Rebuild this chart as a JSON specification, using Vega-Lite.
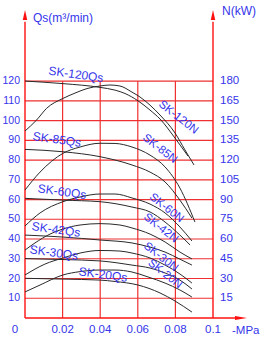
{
  "$schema": "https://vega.github.io/schema/vega-lite/v6.json",
  "autosize": {"type": "none"},
  "width": 224,
  "height": 310,
  "padding": {"left": 25, "top": 8, "right": 15, "bottom": 25},
  "background": "white",
  "config": {"view": {"stroke": null}, "text": {"font": "Liberation Sans, Arial, sans-serif", "color": "#3535ea"}},
  "datasets": {
    "curves": [
      {"s":"120Qs","x":0,"q":120},{"s":"120Qs","x":0.0202,"q":118.7},{"s":"120Qs","x":0.0399,"q":116.8},{"s":"120Qs","x":0.0479,"q":115.4},{"s":"120Qs","x":0.0532,"q":113.7},{"s":"120Qs","x":0.0601,"q":110},{"s":"120Qs","x":0.0665,"q":105.3},{"s":"120Qs","x":0.0718,"q":100.8},{"s":"120Qs","x":0.0798,"q":91.1},{"s":"120Qs","x":0.0867,"q":82},
      {"s":"120N","x":0,"q":94.7},{"s":"120N","x":0.0062,"q":100.3},{"s":"120N","x":0.0115,"q":106.2},{"s":"120N","x":0.0202,"q":111.2},{"s":"120N","x":0.0266,"q":113.9},{"s":"120N","x":0.033,"q":116.2},{"s":"120N","x":0.0399,"q":117.5},{"s":"120N","x":0.0452,"q":118},{"s":"120N","x":0.0505,"q":117.5},{"s":"120N","x":0.0569,"q":114.4},{"s":"120N","x":0.0612,"q":111.9},{"s":"120N","x":0.0665,"q":107.8},{"s":"120N","x":0.0718,"q":102.8},{"s":"120N","x":0.0798,"q":93.7},{"s":"120N","x":0.0851,"q":85.1},{"s":"120N","x":0.0899,"q":77.5},
      {"s":"85Qs","x":0,"q":85.4},{"s":"85Qs","x":0.0202,"q":84.2},{"s":"85Qs","x":0.0399,"q":81.7},{"s":"85Qs","x":0.0569,"q":77.5},{"s":"85Qs","x":0.0665,"q":73.9},{"s":"85Qs","x":0.0745,"q":68.9},{"s":"85Qs","x":0.0824,"q":59.7},{"s":"85Qs","x":0.0888,"q":50.6},
      {"s":"85N","x":0,"q":64.8},{"s":"85N","x":0.008,"q":73.9},{"s":"85N","x":0.0202,"q":83.4},{"s":"85N","x":0.0293,"q":86.6},{"s":"85N","x":0.0399,"q":88.5},{"s":"85N","x":0.0479,"q":88.4},{"s":"85N","x":0.0569,"q":86.6},{"s":"85N","x":0.0665,"q":82.5},{"s":"85N","x":0.0745,"q":76.5},{"s":"85N","x":0.0824,"q":65.8},{"s":"85N","x":0.0904,"q":48.6},
      {"s":"60Qs","x":0,"q":60.6},{"s":"60Qs","x":0.0202,"q":59.7},{"s":"60Qs","x":0.0399,"q":58.9},{"s":"60Qs","x":0.0569,"q":56.2},{"s":"60Qs","x":0.0665,"q":53.7},{"s":"60Qs","x":0.0745,"q":48.6},{"s":"60Qs","x":0.0824,"q":42},{"s":"60Qs","x":0.0878,"q":37},
      {"s":"60N","x":0,"q":46.6},{"s":"60N","x":0.008,"q":53.2},{"s":"60N","x":0.0202,"q":58.9},{"s":"60N","x":0.0293,"q":61.3},{"s":"60N","x":0.0399,"q":62.8},{"s":"60N","x":0.0479,"q":62.8},{"s":"60N","x":0.0569,"q":60.8},{"s":"60N","x":0.0665,"q":57.7},{"s":"60N","x":0.0745,"q":53.2},{"s":"60N","x":0.0824,"q":46.1},{"s":"60N","x":0.0888,"q":39},
      {"s":"42Qs","x":0,"q":42},{"s":"42Qs","x":0.0202,"q":41},{"s":"42Qs","x":0.0399,"q":39.5},{"s":"42Qs","x":0.0569,"q":38},{"s":"42Qs","x":0.0665,"q":35.9},{"s":"42Qs","x":0.0745,"q":33.4},{"s":"42Qs","x":0.0824,"q":29.8},{"s":"42Qs","x":0.0888,"q":26.8},
      {"s":"42N","x":0,"q":34.4},{"s":"42N","x":0.0053,"q":38},{"s":"42N","x":0.0133,"q":42.5},{"s":"42N","x":0.0202,"q":45.1},{"s":"42N","x":0.0293,"q":47.1},{"s":"42N","x":0.0399,"q":47.8},{"s":"42N","x":0.0505,"q":47.1},{"s":"42N","x":0.0569,"q":45.6},{"s":"42N","x":0.0665,"q":42.5},{"s":"42N","x":0.0745,"q":38.5},{"s":"42N","x":0.0824,"q":33.4},{"s":"42N","x":0.0888,"q":29.9},
      {"s":"30Qs","x":0,"q":30.1},{"s":"30Qs","x":0.0202,"q":29.6},{"s":"30Qs","x":0.0399,"q":28.9},{"s":"30Qs","x":0.0569,"q":26.8},{"s":"30Qs","x":0.0665,"q":25.3},{"s":"30Qs","x":0.0745,"q":22.8},{"s":"30Qs","x":0.0824,"q":19.2},{"s":"30Qs","x":0.0888,"q":14.7},
      {"s":"30N","x":0,"q":21.8},{"s":"30N","x":0.0106,"q":27.3},{"s":"30N","x":0.0202,"q":30.4},{"s":"30N","x":0.0293,"q":32.9},{"s":"30N","x":0.0399,"q":34.2},{"s":"30N","x":0.0505,"q":33.9},{"s":"30N","x":0.0569,"q":32.9},{"s":"30N","x":0.0665,"q":30.4},{"s":"30N","x":0.0745,"q":26.8},{"s":"30N","x":0.0824,"q":22.3},{"s":"30N","x":0.0888,"q":17.7},
      {"s":"20Qs","x":0,"q":20.1},{"s":"20Qs","x":0.0202,"q":19.7},{"s":"20Qs","x":0.0399,"q":19.2},{"s":"20Qs","x":0.0479,"q":18.5},{"s":"20Qs","x":0.0601,"q":16.7},{"s":"20Qs","x":0.0718,"q":12.7},{"s":"20Qs","x":0.0798,"q":8.6},{"s":"20Qs","x":0.0888,"q":3},
      {"s":"20N","x":0,"q":13.2},{"s":"20N","x":0.008,"q":16.7},{"s":"20N","x":0.0202,"q":21.8},{"s":"20N","x":0.0293,"q":23.5},{"s":"20N","x":0.0399,"q":24.3},{"s":"20N","x":0.0479,"q":24.3},{"s":"20N","x":0.0569,"q":23.3},{"s":"20N","x":0.0654,"q":20.8},{"s":"20N","x":0.0745,"q":17.7},{"s":"20N","x":0.0824,"q":14.2},{"s":"20N","x":0.0888,"q":10.6}
    ],
    "vgrid": [{"x":0.02},{"x":0.04},{"x":0.06},{"x":0.08}],
    "hgrid": [{"q":10},{"q":20},{"q":30},{"q":40},{"q":50},{"q":60},{"q":70},{"q":80},{"q":90},{"q":100},{"q":110},{"q":120}],
    "vaxes": [{"x":0},{"x":0.1}],
    "xticks": [{"x":0.02,"t":"0.02"},{"x":0.04,"t":"0.04"},{"x":0.06,"t":"0.06"},{"x":0.08,"t":"0.08"},{"x":0.1,"t":"0.1"}],
    "nticks": [{"n":15},{"n":30},{"n":45},{"n":60},{"n":75},{"n":90},{"n":105},{"n":120},{"n":135},{"n":150},{"n":165},{"n":180}],
    "qslabels": [
      {"x":0.0271,"q":123.4,"t":"SK-120Qs"},
      {"x":0.017,"q":90.4,"t":"SK-85Qs"},
      {"x":0.0197,"q":64.0,"t":"SK-60Qs"},
      {"x":0.0165,"q":44.8,"t":"SK-42Qs"},
      {"x":0.0154,"q":33.1,"t":"SK-30Qs"},
      {"x":0.0415,"q":22.0,"t":"SK-20Qs"}
    ],
    "nlabels": [
      {"x":0.0815,"q":101.5,"t":"SK-120N"},
      {"x":0.0717,"q":85.6,"t":"SK-85N"},
      {"x":0.0752,"q":55.6,"t":"SK-60N"},
      {"x":0.0722,"q":45.4,"t":"SK-42N"},
      {"x":0.0722,"q":30.8,"t":"SK-30N"},
      {"x":0.0744,"q":22.2,"t":"SK-20N"}
    ]
  },
  "resolve": {"scale": {"y": "independent"}},
  "layer": [
    {
      "data": {"name": "vgrid"},
      "mark": {"type": "rule", "color": "#ee3030", "strokeWidth": 1.2},
      "encoding": {
        "x": {"field": "x", "type": "quantitative", "scale": {"domain": [0, 0.11915]}, "axis": null},
        "y": {"datum": 0, "type": "quantitative", "scale": {"domain": [0, 157]}, "axis": null},
        "y2": {"datum": 120}
      }
    },
    {
      "data": {"name": "hgrid"},
      "mark": {"type": "rule", "color": "#ee3030", "strokeWidth": 1.2},
      "encoding": {
        "x": {"datum": 0, "type": "quantitative", "scale": {"domain": [0, 0.11915]}, "axis": null},
        "x2": {"datum": 0.1},
        "y": {"field": "q", "type": "quantitative", "scale": {"domain": [0, 157]}, "axis": null}
      }
    },
    {
      "data": {"name": "vaxes"},
      "mark": {"type": "rule", "color": "#ff1010", "strokeWidth": 1.4},
      "encoding": {
        "x": {"field": "x", "type": "quantitative", "scale": {"domain": [0, 0.11915]}, "axis": null},
        "y": {"datum": 0, "type": "quantitative", "scale": {"domain": [0, 157]}, "axis": null},
        "y2": {"datum": 150}
      }
    },
    {
      "data": {"values": [{"q": 0}]},
      "mark": {"type": "rule", "color": "#ff1010", "strokeWidth": 1.4},
      "encoding": {
        "x": {"datum": 0, "type": "quantitative", "scale": {"domain": [0, 0.11915]}, "axis": null},
        "x2": {"datum": 0.113},
        "y": {"field": "q", "type": "quantitative", "scale": {"domain": [0, 157]}, "axis": null}
      }
    },
    {
      "data": {"name": "vaxes"},
      "mark": {"type": "point", "filled": true, "opacity": 1, "color": "#ff1010", "size": 100, "shape": "M0,-1L0.45,1L-0.45,1Z"},
      "encoding": {
        "x": {"field": "x", "type": "quantitative", "scale": {"domain": [0, 0.11915]}, "axis": null},
        "y": {"datum": 153.5, "type": "quantitative", "scale": {"domain": [0, 157]}, "axis": null}
      }
    },
    {
      "data": {"values": [{"q": 0}]},
      "mark": {"type": "point", "filled": true, "opacity": 1, "color": "#ff1010", "size": 144, "shape": "M1,0L-1,-0.35L-1,0.35Z"},
      "encoding": {
        "x": {"datum": 0.1149, "type": "quantitative", "scale": {"domain": [0, 0.11915]}, "axis": null},
        "y": {"field": "q", "type": "quantitative", "scale": {"domain": [0, 157]}, "axis": null}
      }
    },
    {
      "data": {"name": "curves"},
      "mark": {"type": "line", "color": "#2a2a2a", "strokeWidth": 1, "interpolate": "monotone"},
      "encoding": {
        "x": {"field": "x", "type": "quantitative", "scale": {"domain": [0, 0.11915]}, "axis": null},
        "y": {"field": "q", "type": "quantitative", "scale": {"domain": [0, 157]}, "axis": null},
        "detail": {"field": "s", "type": "nominal"}
      }
    },
    {
      "data": {"name": "hgrid"},
      "mark": {"type": "text", "fontSize": 10.5, "align": "right", "baseline": "middle", "dx": -5},
      "encoding": {
        "x": {"datum": 0, "type": "quantitative", "scale": {"domain": [0, 0.11915]}, "axis": null},
        "y": {"field": "q", "type": "quantitative", "scale": {"domain": [0, 157]}, "axis": null},
        "text": {"field": "q", "type": "quantitative"}
      }
    },
    {
      "data": {"name": "nticks"},
      "mark": {"type": "text", "fontSize": 11.5, "align": "left", "baseline": "middle", "dx": 7},
      "encoding": {
        "x": {"datum": 0.1, "type": "quantitative", "scale": {"domain": [0, 0.11915]}, "axis": null},
        "y": {"field": "n", "type": "quantitative", "scale": {"domain": [0, 235.5]}, "axis": null},
        "text": {"field": "n", "type": "quantitative"}
      }
    },
    {
      "data": {"name": "xticks"},
      "mark": {"type": "text", "fontSize": 11.5, "align": "center", "baseline": "middle"},
      "encoding": {
        "x": {"field": "x", "type": "quantitative", "scale": {"domain": [0, 0.11915]}, "axis": null},
        "y": {"datum": -6.1, "type": "quantitative", "scale": {"domain": [0, 157]}, "axis": null},
        "text": {"field": "t", "type": "nominal"}
      }
    },
    {
      "data": {"values": [{"x": 0, "t": "0"}]},
      "mark": {"type": "text", "fontSize": 11.5, "align": "center", "baseline": "middle", "dx": -10},
      "encoding": {
        "x": {"field": "x", "type": "quantitative", "scale": {"domain": [0, 0.11915]}, "axis": null},
        "y": {"datum": -6.1, "type": "quantitative", "scale": {"domain": [0, 157]}, "axis": null},
        "text": {"field": "t", "type": "nominal"}
      }
    },
    {
      "data": {"values": [{"x": 0.1, "t": "-MPa"}]},
      "mark": {"type": "text", "fontSize": 11.5, "align": "left", "baseline": "middle", "dx": 19},
      "encoding": {
        "x": {"field": "x", "type": "quantitative", "scale": {"domain": [0, 0.11915]}, "axis": null},
        "y": {"datum": -6.6, "type": "quantitative", "scale": {"domain": [0, 157]}, "axis": null},
        "text": {"field": "t", "type": "nominal"}
      }
    },
    {
      "data": {"values": [{"x": 0, "t": "Qs(m³/min)"}]},
      "mark": {"type": "text", "fontSize": 12, "align": "left", "baseline": "middle", "dx": 8},
      "encoding": {
        "x": {"field": "x", "type": "quantitative", "scale": {"domain": [0, 0.11915]}, "axis": null},
        "y": {"datum": 152, "type": "quantitative", "scale": {"domain": [0, 157]}, "axis": null},
        "text": {"field": "t", "type": "nominal"}
      }
    },
    {
      "data": {"values": [{"x": 0.1, "t": "N(kW)"}]},
      "mark": {"type": "text", "fontSize": 12, "align": "left", "baseline": "middle", "dx": 9},
      "encoding": {
        "x": {"field": "x", "type": "quantitative", "scale": {"domain": [0, 0.11915]}, "axis": null},
        "y": {"datum": 155.5, "type": "quantitative", "scale": {"domain": [0, 157]}, "axis": null},
        "text": {"field": "t", "type": "nominal"}
      }
    },
    {
      "data": {"name": "qslabels"},
      "mark": {"type": "text", "fontSize": 12, "align": "center", "baseline": "middle", "angle": 8},
      "encoding": {
        "x": {"field": "x", "type": "quantitative", "scale": {"domain": [0, 0.11915]}, "axis": null},
        "y": {"field": "q", "type": "quantitative", "scale": {"domain": [0, 157]}, "axis": null},
        "text": {"field": "t", "type": "nominal"}
      }
    },
    {
      "data": {"name": "nlabels"},
      "mark": {"type": "text", "fontSize": 11.5, "align": "center", "baseline": "middle", "angle": 38},
      "encoding": {
        "x": {"field": "x", "type": "quantitative", "scale": {"domain": [0, 0.11915]}, "axis": null},
        "y": {"field": "q", "type": "quantitative", "scale": {"domain": [0, 157]}, "axis": null},
        "text": {"field": "t", "type": "nominal"}
      }
    }
  ]
}
